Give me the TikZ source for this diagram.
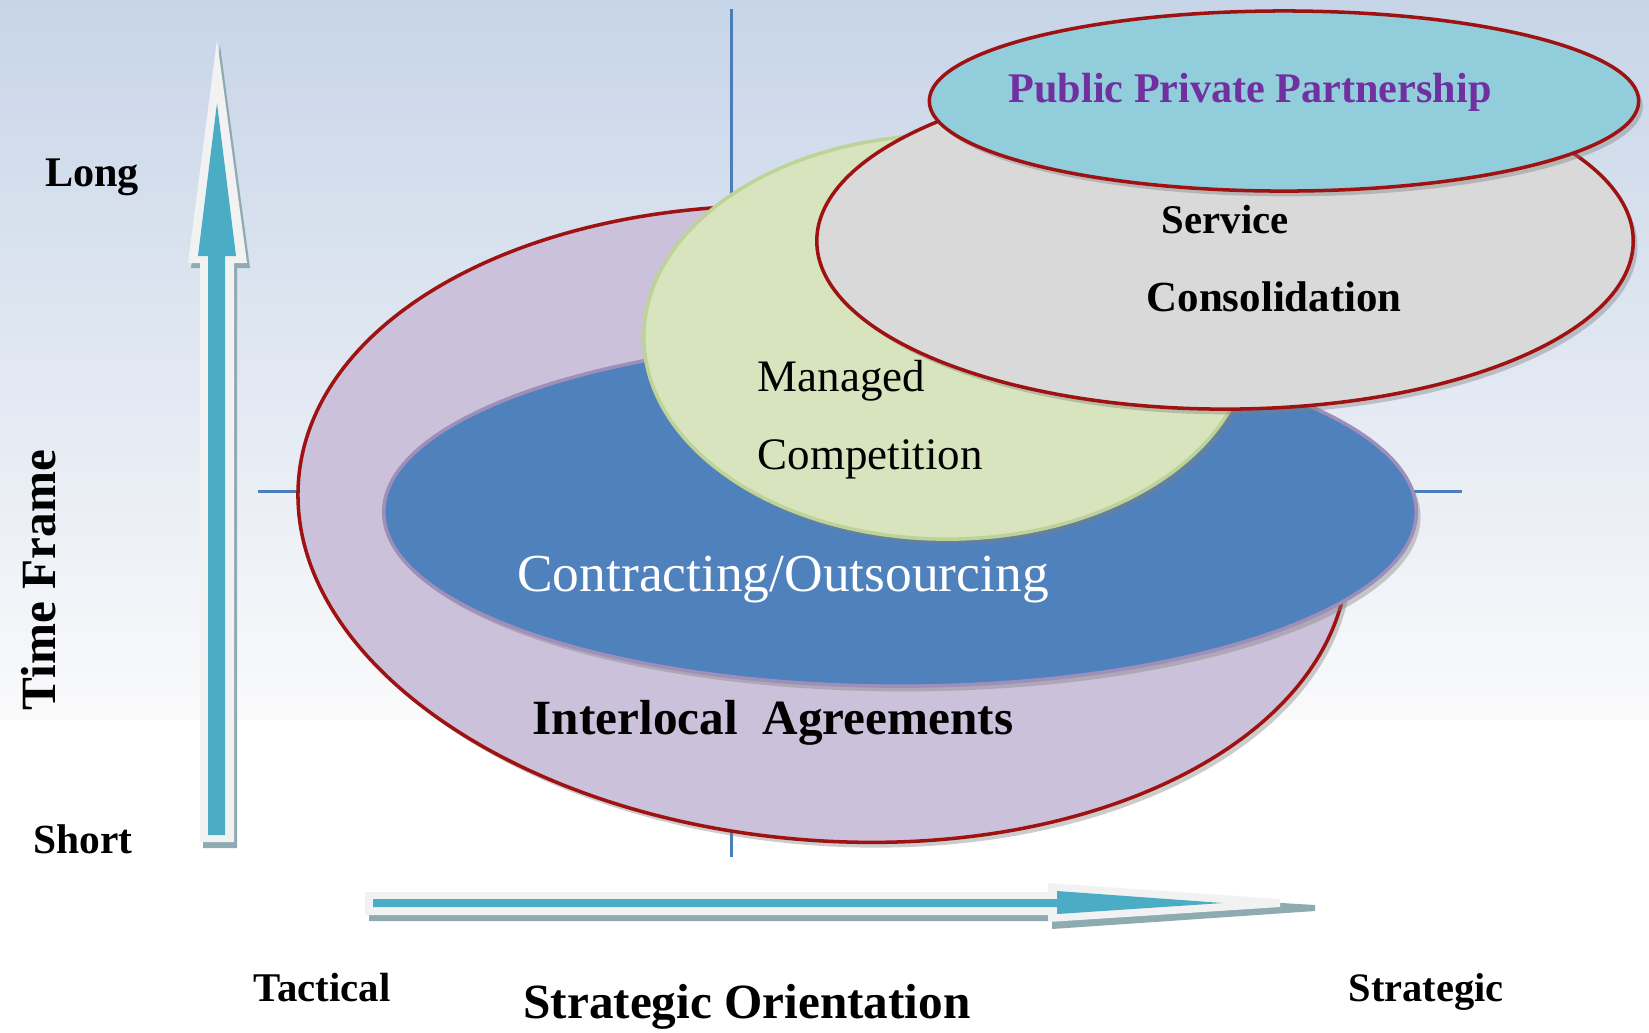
\documentclass[tikz,border=0pt]{standalone}
\usepackage{fontspec}
\setmainfont{Liberation Serif}
\usetikzlibrary{positioning, shapes, shadows}

\definecolor{bgtop}{RGB}{199,213,232}
\definecolor{bgbot}{RGB}{250,250,251}
\definecolor{rimred}{RGB}{158,18,18}
\definecolor{lilac}{RGB}{204,193,218}
\definecolor{steel}{RGB}{79,129,189}
\definecolor{steelrim}{RGB}{158,142,186}
\definecolor{sage}{RGB}{215,228,189}
\definecolor{sagerim}{RGB}{190,211,150}
\definecolor{silver}{RGB}{217,217,217}
\definecolor{aqua}{RGB}{146,205,220}
\definecolor{arrowteal}{RGB}{75,172,198}
\definecolor{arrowrim}{RGB}{242,242,242}
\definecolor{arrowshade}{RGB}{142,171,178}
\definecolor{axisblue}{RGB}{74,126,187}
\definecolor{pppviolet}{RGB}{112,48,160}

\begin{document}
\begin{tikzpicture}[x=0.01cm, y=-0.01cm,
		venn/.style={ellipse, draw=rimred, line width=1pt, inner sep=0pt,
			drop shadow={shadow xshift=1.2pt, shadow yshift=-1.5pt, opacity=.4}},
		axisline/.style={axisblue, line width=0.85pt},
		lbl/.style={inner sep=0pt, anchor=base}]
	\useasboundingbox (0,0) rectangle (1649,1032);
	% fundo
	\shade[top color=bgtop, bottom color=bgbot] (0,0) rectangle (1649,720);
	\fill[white] (0,720) rectangle (1649,1032);
	
	% eixos
	\coordinate (vtop)   at (731,9);
	\coordinate (vbot)   at (731,857);
	\coordinate (hleft)  at (258,491);
	\coordinate (hright) at (1462,491);
	\draw[axisline] (vtop) -- (vbot);
	\draw[axisline] (hleft) -- (hright);
	
	% elipses (de tras para frente)
	\node[venn, fill=lilac, minimum width=10.52cm, minimum height=6.32cm, rotate=-5] (inter) at (823,524) {};
	\node[venn, fill=steel, draw=steelrim, minimum width=10.32cm, minimum height=3.48cm] (contr) at (900,512) {};
	\node[venn, fill=sage, draw=sagerim, minimum width=6.06cm, minimum height=4.04cm] (manag) at (947,337) {};
	\node[venn, fill=silver, minimum width=8.16cm, minimum height=3.36cm] (serv) at (1225,241) {};
	\node[venn, fill=aqua, minimum width=7.09cm, minimum height=1.80cm] (ppp) at (1284,101) {};
	
	% seta vertical
	\fill[arrowshade] (203,848) -- (237,848) -- (237,268) -- (250,268) -- (220,45) -- (191,268) -- (203,268) -- cycle;
	\fill[arrowrim] (200,842) -- (234,842) -- (234,263) -- (247,263) -- (217,40) -- (188,263) -- (200,263) -- cycle;
	\fill[arrowteal] (208,835) -- (225,835) -- (225,256) -- (236,256) -- (217,103) -- (198,256) -- (208,256) -- cycle;
	
	% seta horizontal
	\fill[arrowshade] (369,898) -- (1052,898) -- (1052,889) -- (1315,905) -- (1315,911) -- (1052,929) -- (1052,921) -- (369,921) -- cycle;
	\fill[arrowrim] (365,892) -- (1048,892) -- (1048,883) -- (1280,899) -- (1280,907) -- (1048,922) -- (1048,915) -- (365,915) -- cycle;
	\fill[arrowteal] (373,899) -- (1057,899) -- (1057,891) -- (1223,903) -- (1057,914) -- (1057,907) -- (373,907) -- cycle;
	
	% textos
	\node[lbl, font=\bfseries\fontsize{12}{14}\selectfont] (long) at (92,186) {Long};
	\node[lbl, font=\bfseries\fontsize{11.8}{14}\selectfont] (short) at (83,853) {Short};
	\node[lbl, font=\bfseries\fontsize{11.6}{14}\selectfont] (tactical) at (322,1001) {Tactical};
	\node[lbl, font=\bfseries\fontsize{11.5}{14}\selectfont] (strategic) at (1426,1001) {Strategic};
	\node[lbl, font=\bfseries\fontsize{14}{16}\selectfont] (orient) at (747,1018) {Strategic Orientation};
	\node[lbl, rotate=90, font=\bfseries\fontsize{14}{16}\selectfont] (timeframe) at (55,580) {Time Frame};
	\node[lbl, font=\bfseries\fontsize{14}{16}\selectfont] (interlab) at (773,734) {Interlocal\ \ Agreements};
	\node[lbl, text=white, font=\fontsize{15.2}{18}\selectfont] (contrlab) at (783,591) {Contracting/Outsourcing};
	\node[lbl, anchor=base west, font=\fontsize{12.8}{15}\selectfont] (managlab) at (757,391) {Managed};
	\node[lbl, font=\fontsize{12.8}{15}\selectfont] (complab) [below=0.78cm of managlab.base west, anchor=base west] {Competition};
	\node[lbl, anchor=base west, font=\bfseries\fontsize{11.6}{14}\selectfont] (servlab) at (1161,233) {Service};
	\node[lbl, font=\bfseries\fontsize{12.2}{14}\selectfont] (consolab) [below=0.78cm of servlab.base west, xshift=-0.15cm, anchor=base west] {Consolidation};
	\node[lbl, text=pppviolet, font=\bfseries\fontsize{12}{14}\selectfont] (ppplab) at (1250,102) {Public Private Partnership};
\end{tikzpicture}
\end{document}
